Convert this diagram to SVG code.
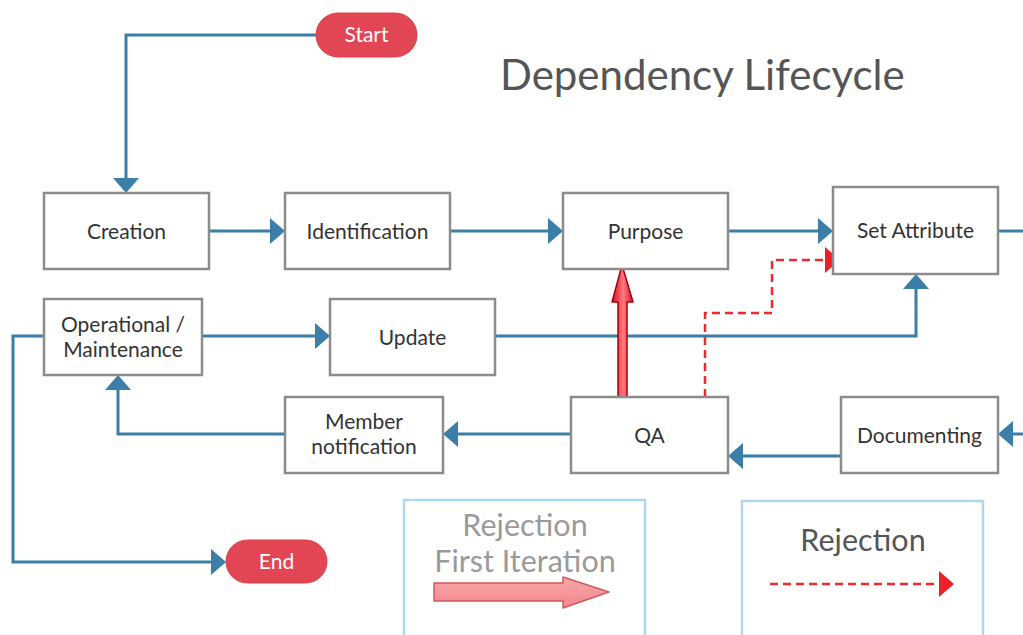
<svg xmlns="http://www.w3.org/2000/svg" width="1023" height="635" viewBox="0 0 1023 635">
  <style>
    .box { fill: #ffffff; stroke: #8c8c8c; stroke-width: 2.5; }
    .pill { fill: #e24553; stroke: #d8404d; stroke-width: 1; }
    .lbl { font-family: Lato, "Liberation Sans", sans-serif; font-size: 21px; fill: #333333; text-anchor: middle; }
    .plbl { font-family: Lato, "Liberation Sans", sans-serif; font-size: 21px; fill: #ffffff; text-anchor: middle; }
    .flow { fill: none; stroke: #3b7ea8; stroke-width: 3; }
    .rej { fill: none; stroke: #ee2a2f; stroke-width: 2.5; stroke-dasharray: 8 5; }
    .legend { fill: #ffffff; stroke: #aed8f0; stroke-width: 2.5; }
    .title { font-family: Lato, "Liberation Sans", sans-serif; font-size: 42px; fill: #555555; }
    .leg1 { font-family: Lato, "Liberation Sans", sans-serif; font-size: 30.5px; fill: #9a9a9a; text-anchor: middle; }
    .leg2 { font-family: Lato, "Liberation Sans", sans-serif; font-size: 30.5px; fill: #555555; text-anchor: middle; }
  </style>
  <defs>
    <marker id="headBlue" viewBox="0 0 15 26" refX="12" refY="13" markerWidth="15" markerHeight="26" markerUnits="userSpaceOnUse" orient="auto">
      <path d="M0,0 L15,13 L0,26 Z" fill="#3b7ea8"/>
    </marker>
    <marker id="headRed" viewBox="0 0 15 26" refX="12" refY="13" markerWidth="15" markerHeight="26" markerUnits="userSpaceOnUse" orient="auto">
      <path d="M0,0 L15,13 L0,26 Z" fill="#ee2027"/>
    </marker>
    <linearGradient id="bigRed" x1="0" y1="0" x2="1" y2="0">
      <stop offset="0" stop-color="#d5101e"/>
      <stop offset="0.55" stop-color="#ff7a80"/>
      <stop offset="1" stop-color="#d5101e"/>
    </linearGradient>
    <linearGradient id="pinkArrow" x1="0" y1="0" x2="0" y2="1">
      <stop offset="0" stop-color="#f7a8aa"/>
      <stop offset="1" stop-color="#f3878c"/>
    </linearGradient>
  </defs>

  <text class="title" x="500" y="90">Dependency Lifecycle</text>

  <!-- connectors -->
  <g id="connectors">
    <path class="flow" d="M316,35 H126 V190" marker-end="url(#headBlue)"/>
    <path class="flow" d="M209,231 H282" marker-end="url(#headBlue)"/>
    <path class="flow" d="M450,231 H560" marker-end="url(#headBlue)"/>
    <path class="flow" d="M728,231 H830" marker-end="url(#headBlue)"/>
    <path class="flow" d="M998,231 H1023"/>
    <path class="flow" d="M202,336 H327" marker-end="url(#headBlue)"/>
    <path class="flow" d="M495,336 H916 V277" marker-end="url(#headBlue)"/>
    <path class="flow" d="M1023,434 H1001" marker-end="url(#headBlue)"/>
    <path class="flow" d="M841,456 H731" marker-end="url(#headBlue)"/>
    <path class="flow" d="M571,434 H446" marker-end="url(#headBlue)"/>
    <path class="flow" d="M285,434 H118 V378" marker-end="url(#headBlue)"/>
    <path class="flow" d="M44,336 H13 V562 H223" marker-end="url(#headBlue)"/>
    <path class="rej" d="M705,397 V313 H772 V260 H837" marker-end="url(#headRed)"/>
    <polygon points="618,397 627,397 627,302 633,302 622,265 612,302 618,302" fill="url(#bigRed)" stroke="#a8000f" stroke-width="1.5" stroke-linejoin="round"/>
  </g>

  <!-- nodes -->
  <g id="start">
    <rect class="pill" x="316" y="13" width="101" height="44" rx="22"/>
    <text class="plbl" x="366.5" y="42">Start</text>
  </g>
  <g id="creation">
    <rect class="box" x="44" y="193" width="165" height="76"/>
    <text class="lbl" x="126.5" y="239">Creation</text>
  </g>
  <g id="identification">
    <rect class="box" x="285" y="193" width="165" height="76"/>
    <text class="lbl" x="367.5" y="239">Identification</text>
  </g>
  <g id="purpose">
    <rect class="box" x="563" y="193" width="165" height="76"/>
    <text class="lbl" x="645.5" y="239">Purpose</text>
  </g>
  <g id="set-attribute">
    <rect class="box" x="833" y="187" width="165" height="87"/>
    <text class="lbl" x="915.5" y="238">Set Attribute</text>
  </g>
  <g id="operational">
    <rect class="box" x="44" y="299" width="158" height="76"/>
    <text class="lbl" x="123" y="332">Operational /</text>
    <text class="lbl" x="123" y="357">Maintenance</text>
  </g>
  <g id="update">
    <rect class="box" x="330" y="299" width="165" height="76"/>
    <text class="lbl" x="412.5" y="345">Update</text>
  </g>
  <g id="member-notification">
    <rect class="box" x="285" y="397" width="158" height="76"/>
    <text class="lbl" x="364" y="429">Member</text>
    <text class="lbl" x="364" y="454">notification</text>
  </g>
  <g id="qa">
    <rect class="box" x="571" y="397" width="157" height="76"/>
    <text class="lbl" x="649.5" y="443">QA</text>
  </g>
  <g id="documenting">
    <rect class="box" x="841" y="397" width="157" height="76"/>
    <text class="lbl" x="919.5" y="443">Documenting</text>
  </g>
  <g id="end">
    <rect class="pill" x="226" y="540" width="101" height="43" rx="21.5"/>
    <text class="plbl" x="276.5" y="569">End</text>
  </g>

  <!-- legend -->
  <g id="legend-first-iteration">
    <rect class="legend" x="404" y="500" width="241" height="140"/>
    <text class="leg1" x="525" y="536">Rejection</text>
    <text class="leg1" x="525" y="572">First Iteration</text>
    <polygon points="434,583 563,583 563,577 609,592 563,608 563,601 434,601" fill="url(#pinkArrow)" stroke="#cf5a5f" stroke-width="1.5" stroke-linejoin="round"/>
  </g>
  <g id="legend-rejection">
    <rect class="legend" x="742" y="501" width="241" height="140"/>
    <text class="leg2" x="863" y="551">Rejection</text>
    <path class="rej" d="M770,584 H951" marker-end="url(#headRed)"/>
  </g>
</svg>
